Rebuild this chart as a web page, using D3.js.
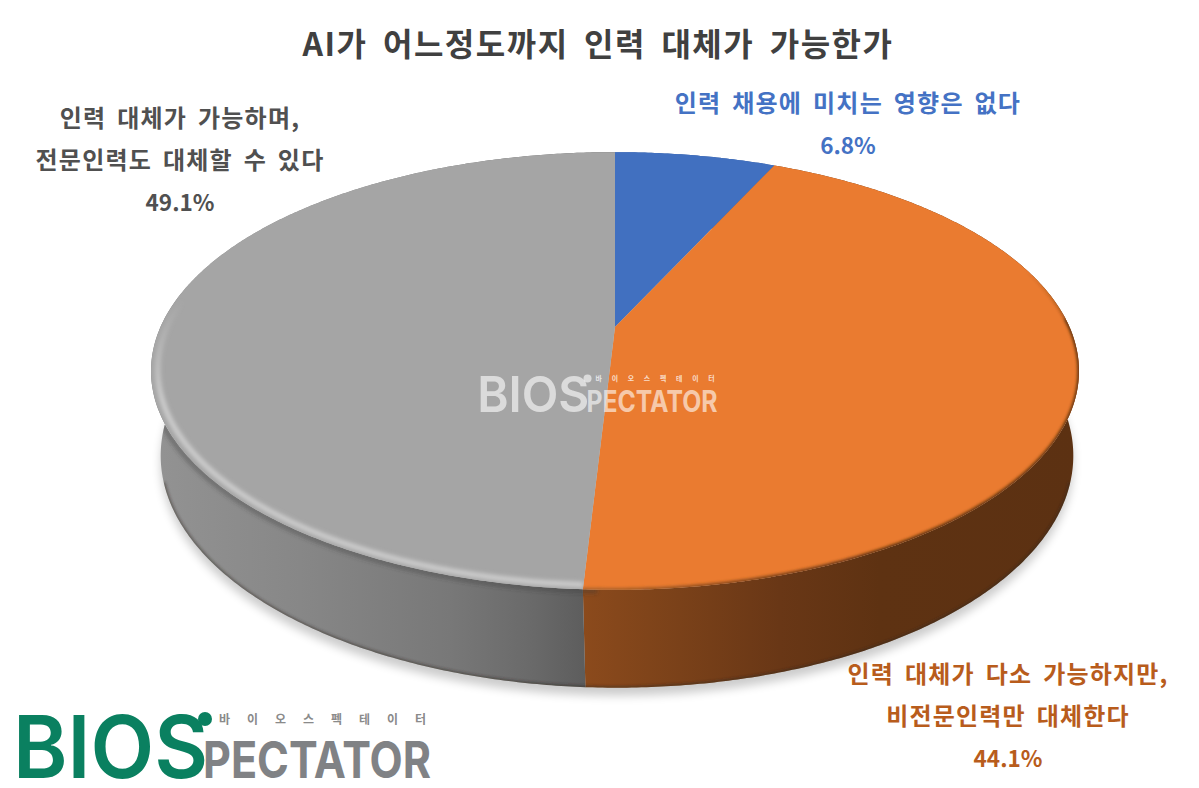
<!DOCTYPE html>
<html lang="ko">
<head>
<meta charset="utf-8">
<script src="https://cdn.jsdelivr.net/npm/d3@7/dist/d3.min.js"></script>
<style>
html,body{margin:0;padding:0;background:#fff;overflow:hidden;}
svg{display:block;}
text{font-family:"Noto Sans CJK KR","Noto Sans",sans-serif;}
</style>
</head>
<body>
<div id="chart"></div>
<script>
// Survey shares, clockwise from twelve o'clock
const titleText = "AI가 어느정도까지 인력 대체가 가능한가";
const categories = [
  ["인력 채용에 미치는 영향은 없다"],
  ["인력 대체가 다소 가능하지만,", "비전문인력만 대체한다"],
  ["인력 대체가 가능하며,", "전문인력도 대체할 수 있다"]
];
const shares = [6.8, 44.1, 49.1];
const faceColors = ["#4170c0", "#ea7b30", "#a5a5a5"];
const labelColors = ["#4472c4", "#b85c1c", "#505050"];
const labelAnchors = [[848, 103], [1008, 674], [180, 118]];

const width = 1199, height = 788;
const svg = d3.select("#chart").append("svg").attr("width", width).attr("height", 812);
const defs = svg.append("defs");

// Camera model for the tilted disc: the near side looks larger. The upper rim
// and the lower rim each get their own lens, blended by depth.
const tilt = 0.2009;
const upperRim = {cx: 615, cy: 327, lensX: 454.5, lensY: 210};
const lowerRim = {cx: 617, cy: 409, lensX: 447, lensY: 222.7};
const apex = [upperRim.cx, upperRim.cy];
const blend = d3.interpolate(upperRim, lowerRim);
function project(angle, radius, depth) {
  const X = Math.sin(angle) * radius, Y = -Math.cos(angle) * radius;
  const w = 1 - tilt * Y;
  const lens = blend(depth);
  return [lens.cx + lens.lensX * X / w, lens.cy + lens.lensY * Y / w];
}
const step = Math.PI / 360;
function arcPoints(a0, a1, radius, depth) {
  const pts = d3.range(a0, a1, step).map(a => project(a, radius, depth));
  pts.push(project(a1, radius, depth));
  return pts;
}
const line = d3.line();

const slices = d3.pie().sort(null).value(d => d).startAngle(0).endAngle(2 * Math.PI)(shares);

// Filters
function blurFilter(id, dev) {
  defs.append("filter").attr("id", id)
    .attr("x", "-20%").attr("y", "-20%").attr("width", "140%").attr("height", "140%")
    .append("feGaussianBlur").attr("stdDeviation", dev);
}
blurFilter("soft6", 5);
blurFilter("soft2", 2);
blurFilter("soft1", 1.5);

// Side wall shading runs left to right
function wallGradient(id, stops) {
  const g = defs.append("linearGradient").attr("id", id)
    .attr("gradientUnits", "userSpaceOnUse")
    .attr("x1", 150).attr("x2", 1080).attr("y1", 0).attr("y2", 0);
  stops.forEach(([x, c]) => g.append("stop").attr("offset", (x - 150) / 930).attr("stop-color", c));
}
wallGradient("wall-0", [[150, "#4170c0"], [1080, "#2d4f86"]]);
wallGradient("wall-1", [[585, "#8b4a1c"], [680, "#7a4119"], [780, "#693716"], [880, "#5e3212"], [1080, "#5c3112"]]);
wallGradient("wall-2", [[150, "#939393"], [300, "#878787"], [450, "#787878"], [530, "#6a6a6a"], [585, "#5d5d5d"]]);
wallGradient("rim-front", [[150, "#b0652c"], [585, "#b0652c"], [720, "#8a4a1c"], [880, "#5d3010"], [1080, "#5d3010"]]);

// Fades used for the rim strokes, so they die out towards the back of the disc
function rimFade(id, color, yHidden, yFull) {
  const g = defs.append("linearGradient").attr("id", id)
    .attr("gradientUnits", "userSpaceOnUse")
    .attr("x1", 0).attr("x2", 0).attr("y1", yHidden).attr("y2", yFull);
  g.append("stop").attr("offset", 0).attr("stop-color", color).attr("stop-opacity", 0);
  g.append("stop").attr("offset", 1).attr("stop-color", color).attr("stop-opacity", 1);
}
rimFade("rim-gray", "#cfcfcf", 300, 400);
rimFade("rim-orange", "#5d3010", 270, 370);

// Soft ground shadow under the disc
svg.append("path")
  .attr("d", line(arcPoints(0, 2 * Math.PI, 1, 1.02)) + "Z")
  .attr("fill", "#000").attr("opacity", 0.2).attr("filter", "url(#soft6)")
  .attr("transform", "translate(0,6)");

// Side walls
const wallPath = d => line(arcPoints(d.startAngle, d.endAngle, 1, 0)
    .concat(arcPoints(d.startAngle, d.endAngle, 1, 1).reverse())) + "Z";
svg.append("g").selectAll("path").data(slices).join("path")
  .attr("d", wallPath)
  .attr("fill", d => `url(#wall-${d.index})`);

// Dark lip along the lower edge of the wall
defs.append("clipPath").attr("id", "wall-clip")
  .selectAll("path").data(slices).join("path").attr("d", wallPath);
const wallShade = svg.append("g").attr("clip-path", "url(#wall-clip)");
wallShade.append("path")
  .attr("d", line(arcPoints(Math.PI * 0.6, Math.PI * 1.4, 1, 1)))
  .attr("fill", "none").attr("stroke", "#2e2420").attr("stroke-opacity", 0.55)
  .attr("stroke-width", 3).attr("filter", "url(#soft1)");
// Shade on the wall just below the upper rim
wallShade.append("path")
  .attr("d", line(arcPoints(Math.PI * 1.01, Math.PI * 1.55, 1.004, 0)))
  .attr("fill", "none").attr("stroke", "#3a3a3a").attr("stroke-opacity", 0.4)
  .attr("stroke-width", 5).attr("filter", "url(#soft2)");

// Top faces
const clipFor = d => `clip-${d.index}`;
const facePath = d => line([apex].concat(arcPoints(d.startAngle, d.endAngle, 1, 0))) + "Z";
defs.selectAll("clipPath.face").data(slices).join("clipPath")
  .attr("class", "face").attr("id", clipFor)
  .append("path").attr("d", facePath);

svg.append("g").selectAll("path").data(slices).join("path")
  .attr("d", facePath)
  .attr("fill", (d, i) => faceColors[i]);

// Bevel along the rim, clipped to each face
const [blueSlice, orangeSlice, graySlice] = slices;
svg.append("g").attr("clip-path", `url(#${clipFor(graySlice)})`)
  .append("path")
  .attr("d", line(arcPoints(graySlice.startAngle, graySlice.startAngle + 1.75, 0.986, 0)))
  .attr("fill", "none").attr("stroke", "url(#rim-gray)").attr("stroke-width", 5).attr("filter", "url(#soft2)");

// The orange rim is blurred as one group so the two strokes join without a step
const rimSplit = orangeSlice.startAngle + 1.1;
const orangeRim = svg.append("g").attr("clip-path", `url(#${clipFor(orangeSlice)})`)
  .append("g").attr("filter", "url(#soft1)")
  .attr("fill", "none").attr("stroke-width", 5);
orangeRim.append("path")
  .attr("d", line(arcPoints(orangeSlice.startAngle + 0.6, rimSplit, 1.002, 0)))
  .attr("stroke", "url(#rim-orange)");
orangeRim.append("path")
  .attr("d", line(arcPoints(rimSplit, orangeSlice.endAngle, 1.002, 0)))
  .attr("stroke", "url(#rim-front)");

// Brand mark, drawn as real text
function drawMark(parent, x, y, k, colors) {
  const g = parent.append("g").attr("transform", `translate(${x},${y}) scale(${k})`);
  g.append("text").text("BIOS")
    .attr("x", -5).attr("y", 65)
    .attr("font-size", 87).attr("font-weight", 600)
    .attr("textLength", 195).attr("lengthAdjust", "spacingAndGlyphs")
    .style("font-family", "Inter, sans-serif")
    .attr("fill", colors.main);
  g.append("circle").attr("cx", 187).attr("cy", 6).attr("r", 7).attr("fill", colors.main);
  g.append("text").text("PECTATOR")
    .attr("x", 185).attr("y", 65)
    .attr("font-size", 51).attr("font-weight", 700)
    .attr("textLength", 228).attr("lengthAdjust", "spacingAndGlyphs")
    .style("font-family", "Inter, sans-serif")
    .attr("fill", colors.sub);
  g.append("text").text("바 이 오 스 펙 테 이 터")
    .attr("x", 201).attr("y", 11)
    .attr("font-size", 12).attr("font-weight", 700)
    .attr("textLength", 207).attr("lengthAdjust", "spacing")
    .attr("fill", colors.small);
}
drawMark(svg, 480, 375, 0.575,
  {main: "rgba(255,255,255,0.6)", sub: "rgba(255,255,255,0.6)", small: "rgba(255,255,255,0.75)"});
drawMark(svg, 18, 713, 1, {main: "#0a8060", sub: "#808285", small: "#8a8a8a"});

// Title
svg.append("text").text(titleText)
  .attr("x", 598).attr("y", 56)
  .attr("text-anchor", "middle")
  .attr("font-size", 32).attr("font-weight", 700)
  .attr("letter-spacing", 1.5).attr("word-spacing", 5)
  .attr("fill", "#404040");

// Category labels with their percentages
const fmt = d3.format(".1f");
const labels = svg.append("g").selectAll("g").data(slices).join("g")
  .attr("fill", d => labelColors[d.index])
  .attr("font-weight", 700)
  .attr("text-anchor", "middle");
labels.each(function (d) {
  const [lx, ly] = labelAnchors[d.index];
  const names = categories[d.index];
  const rows = names.concat(fmt(d.value) + "%");
  d3.select(this).selectAll("text").data(rows).join("text")
    .attr("x", lx)
    .attr("y", (r, i) => ly + i * 42 + 8.5)
    .attr("font-size", (r, i) => i < names.length ? 24 : 22.5)
    .attr("letter-spacing", (r, i) => i < names.length ? 1.2 : 0)
    .attr("word-spacing", 3)
    .text(r => r);
});
</script>
</body>
</html>
